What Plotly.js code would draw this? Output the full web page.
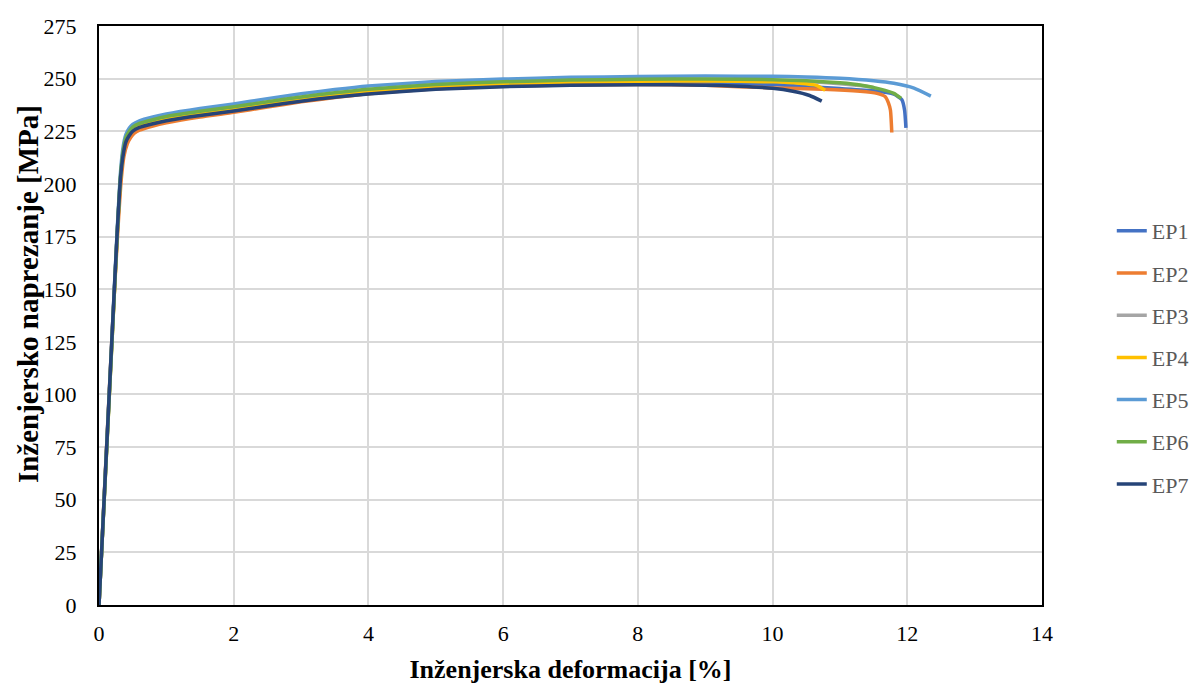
<!DOCTYPE html>
<html>
<head>
<meta charset="utf-8">
<script src="https://cdn.plot.ly/plotly-3.0.1.min.js"></script>
<style>
  html, body { margin: 0; padding: 0; background: #ffffff; }
  #chart { width: 1195px; height: 684px; }
</style>
</head>
<body>
<div id="chart"></div>
<script>
// Series names
const seriesNames = ["EP1", "EP2", "EP3", "EP4", "EP5", "EP6", "EP7"];
const seriesColors = ["#4472C4", "#ED7D31", "#A5A5A5", "#FFC000", "#5B9BD5", "#70AD47", "#264478"];

// Strain [%] and stress [MPa]
const ep1Strain = [0, 0.1, 0.2, 0.27, 0.32, 0.36, 0.4, 0.45, 0.5, 0.6, 0.8, 1.0, 1.5, 2.0, 2.5, 3.0, 3.5, 4.0, 5.0, 6.0, 7.0, 8.0, 9.0, 10.0, 10.5, 11.0, 11.5, 11.8, 11.92, 11.96, 11.98];
const ep1Stress = [0, 66, 131, 176, 202, 214, 220, 223, 225, 227, 228.8, 230.3, 233, 235.2, 237.6, 240, 242, 243.7, 246, 247.3, 248, 248.2, 248, 247.2, 246.3, 245.3, 244.2, 242.6, 240, 235, 226.6];

const ep2Strain = [0, 0.1, 0.2, 0.28, 0.33, 0.37, 0.42, 0.47, 0.52, 0.6, 0.8, 1.0, 1.5, 2.0, 2.5, 3.0, 3.5, 4.0, 5.0, 6.0, 7.0, 8.0, 9.0, 9.5, 10.0, 10.75, 11.3, 11.55, 11.67, 11.72, 11.75, 11.77];
const ep2Stress = [0, 67, 132, 178, 202, 213, 219, 222, 224, 225.5, 227.5, 229, 231.8, 234, 236.5, 239, 241, 242.8, 245.2, 246.4, 247, 247.2, 246.8, 246.2, 245.6, 245, 244, 243, 241.5, 238.5, 235, 224.4];

const ep3Strain = [0, 0.1, 0.2, 0.27, 0.32, 0.36, 0.4, 0.45, 0.5, 0.6, 0.8, 1.0, 1.5, 2.0, 2.5, 3.0, 3.5, 4.0, 5.0, 6.0, 7.0, 8.0, 9.0, 10.0, 10.5, 11.0, 11.3, 11.5];
const ep3Stress = [0, 65, 130, 176, 203.5, 215.5, 221.6, 224.6, 226.6, 228.3, 230.1, 231.6, 234.1, 236.2, 238.6, 240.9, 242.9, 244.6, 246.8, 248.1, 248.9, 249.3, 249.4, 249.1, 248.6, 247.6, 246.7, 245.8];

const ep4Strain = [0, 0.1, 0.2, 0.27, 0.32, 0.36, 0.4, 0.45, 0.5, 0.6, 0.8, 1.0, 1.5, 2.0, 2.5, 3.0, 3.5, 4.0, 5.0, 6.0, 7.0, 8.0, 9.0, 10.0, 10.4, 10.65, 10.78];
const ep4Stress = [0, 65, 130, 176, 203, 215, 221, 224, 226, 227.8, 229.6, 231, 233.6, 235.8, 238.2, 240.5, 242.5, 244.2, 246.4, 247.7, 248.4, 248.8, 248.9, 248.5, 247.8, 246.8, 244.5];

const ep5Strain = [0, 0.1, 0.2, 0.27, 0.32, 0.36, 0.4, 0.45, 0.5, 0.6, 0.8, 1.0, 1.5, 2.0, 2.5, 3.0, 3.5, 4.0, 5.0, 6.0, 7.0, 8.0, 9.0, 10.0, 10.5, 11.0, 11.5, 11.8, 12.1, 12.35];
const ep5Stress = [0, 66, 132, 178, 206, 218, 223.5, 226.5, 228.3, 230, 231.8, 233.2, 235.8, 238, 240.5, 242.8, 244.8, 246.5, 248.6, 249.8, 250.6, 251, 251.2, 251.1, 250.8, 250.2, 249, 247.8, 245.5, 241.7];

const ep6Strain = [0, 0.1, 0.2, 0.27, 0.32, 0.36, 0.4, 0.45, 0.5, 0.6, 0.8, 1.0, 1.5, 2.0, 2.5, 3.0, 3.5, 4.0, 5.0, 6.0, 7.0, 8.0, 9.0, 10.0, 10.5, 11.0, 11.3, 11.6, 11.8, 11.91];
const ep6Stress = [0, 65, 130, 176, 204, 216, 222, 225, 227, 228.7, 230.5, 232, 234.5, 236.6, 239, 241.3, 243.3, 245, 247.2, 248.5, 249.3, 249.7, 249.8, 249.5, 249, 248, 247, 245, 243, 240.6];

const ep7Strain = [0, 0.1, 0.2, 0.27, 0.32, 0.36, 0.4, 0.45, 0.5, 0.6, 0.8, 1.0, 1.5, 2.0, 2.5, 3.0, 3.5, 4.0, 5.0, 6.0, 7.0, 8.0, 9.0, 9.5, 10.0, 10.3, 10.55, 10.73];
const ep7Stress = [0, 66, 132, 177, 203, 214, 220, 223, 225, 226.8, 228.6, 230, 232.5, 234.6, 237, 239.3, 241.2, 242.7, 244.9, 246.2, 246.8, 247.1, 246.9, 246.4, 245.4, 244, 242, 239.3];

// Axis ticks
const xTicks = [0, 2, 4, 6, 8, 10, 12, 14];
const yTicks = [0, 25, 50, 75, 100, 125, 150, 175, 200, 225, 250, 275];

const strains = [ep1Strain, ep2Strain, ep3Strain, ep4Strain, ep5Strain, ep6Strain, ep7Strain];
const stresses = [ep1Stress, ep2Stress, ep3Stress, ep4Stress, ep5Stress, ep6Stress, ep7Stress];

const traces = seriesNames.map((name, i) => ({
  type: "scatter",
  mode: "lines",
  name: name,
  legendgroup: name,
  x: strains[i],
  y: stresses[i],
  line: { color: seriesColors[i], width: 3.5, shape: "spline", smoothing: 0.5 },
  hoverinfo: "x+y+name"
}));

const serif = "'Liberation Serif', 'Times New Roman', serif";

const layout = {
  width: 1195,
  height: 684,
  paper_bgcolor: "#ffffff",
  plot_bgcolor: "#ffffff",
  margin: { l: 99, r: 153, t: 26, b: 79, autoexpand: false },
  font: { family: serif, color: "#000000", size: 22 },
  showlegend: true,
  legend: {
    x: 1.074, xanchor: "left",
    y: 0.4275, yanchor: "middle",
    font: { family: serif, size: 22, color: "#595959" },
    tracegroupgap: 10.6,
    itemwidth: 30,
    bgcolor: "rgba(0,0,0,0)"
  },
  xaxis: {
    range: [0, 14],
    tickvals: xTicks,
    ticktext: xTicks.map(String),
    showgrid: true,
    gridcolor: "#d9d9d9",
    gridwidth: 2,
    zeroline: false,
    showline: true,
    linecolor: "#000000",
    linewidth: 2,
    mirror: true,
    ticks: "",
    ticklabelstandoff: 8,
    tickfont: { family: serif, size: 22, color: "#000000" },
    title: { text: "<b>Inženjerska deformacija [%]</b>", font: { family: serif, size: 26, color: "#000000" }, standoff: 14 },
    automargin: false
  },
  yaxis: {
    range: [0, 275],
    tickvals: yTicks,
    ticktext: yTicks.map(String),
    showgrid: true,
    gridcolor: "#d9d9d9",
    gridwidth: 2,
    zeroline: false,
    showline: true,
    linecolor: "#000000",
    linewidth: 2,
    mirror: true,
    ticks: "",
    ticklabelstandoff: 16,
    tickfont: { family: serif, size: 22, color: "#000000" },
    automargin: false
  },
  annotations: [{
    text: "<b>Inženjersko naprezanje [MPa]</b>",
    xref: "paper", yref: "paper",
    x: -0.0753, y: 0.537,
    xanchor: "center", yanchor: "middle",
    textangle: -90,
    showarrow: false,
    font: { family: serif, size: 29, color: "#000000" }
  }]
};

Plotly.newPlot("chart", traces, layout, { displayModeBar: false, staticPlot: true });
</script>
</body>
</html>
